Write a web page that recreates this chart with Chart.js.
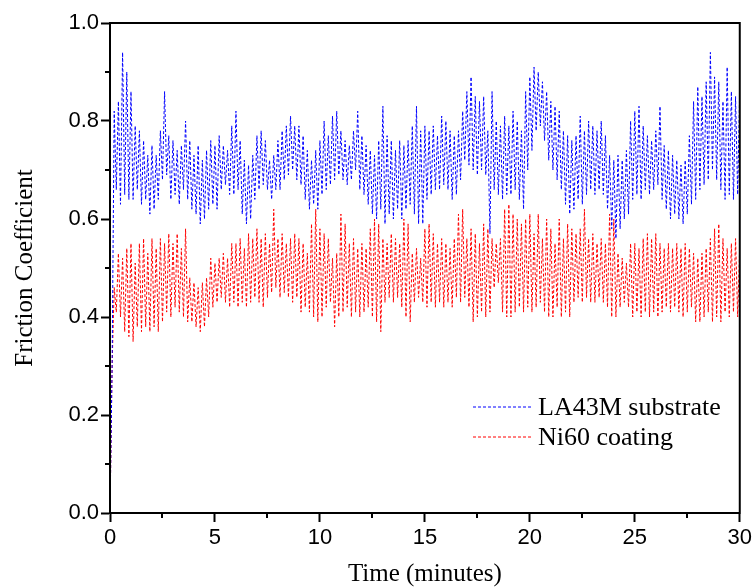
<!DOCTYPE html>
<html>
<head>
<meta charset="utf-8">
<script src="https://cdn.jsdelivr.net/npm/chart.js@4.4.1/dist/chart.umd.min.js"></script>
<style>
  html, body { margin: 0; padding: 0; background: #fff; }
  #grafico { display: block; }
</style>
</head>
<body>
<canvas id="grafico" width="755" height="587"></canvas>
<script>
// tiempo de muestreo cada 0.1 min, de 0 a 30
const tiempos = Array.from({ length: 301 }, (_, i) => i / 10);

// LA43M substrate (azul)
const substrato = [
  0.00, 0.30, 0.82, 0.66, 0.84, 0.63, 0.94, 0.65, 0.90, 0.64,
  0.86, 0.64, 0.79, 0.66, 0.78, 0.63, 0.76, 0.64, 0.73, 0.61,
  0.75, 0.62, 0.73, 0.64, 0.78, 0.68, 0.86, 0.69, 0.77, 0.64,
  0.76, 0.65, 0.74, 0.63, 0.75, 0.66, 0.80, 0.64, 0.76, 0.62,
  0.73, 0.61, 0.75, 0.59, 0.72, 0.60, 0.74, 0.62, 0.76, 0.63,
  0.75, 0.62, 0.77, 0.66, 0.75, 0.67, 0.74, 0.65, 0.79, 0.65,
  0.82, 0.66, 0.76, 0.61, 0.72, 0.59, 0.71, 0.60, 0.73, 0.64,
  0.77, 0.66, 0.78, 0.67, 0.76, 0.66, 0.72, 0.64, 0.73, 0.66,
  0.76, 0.66, 0.78, 0.68, 0.79, 0.69, 0.81, 0.70, 0.79, 0.68,
  0.79, 0.67, 0.77, 0.64, 0.74, 0.62, 0.72, 0.63, 0.74, 0.62,
  0.76, 0.65, 0.80, 0.66, 0.77, 0.67, 0.81, 0.68, 0.82, 0.69,
  0.78, 0.68, 0.76, 0.67, 0.75, 0.68, 0.78, 0.70, 0.82, 0.66,
  0.77, 0.65, 0.75, 0.63, 0.74, 0.61, 0.73, 0.60, 0.76, 0.62,
  0.83, 0.59, 0.77, 0.61, 0.76, 0.60, 0.74, 0.62, 0.76, 0.60,
  0.75, 0.62, 0.76, 0.63, 0.79, 0.61, 0.83, 0.59, 0.78, 0.59,
  0.79, 0.64, 0.78, 0.65, 0.79, 0.66, 0.77, 0.66, 0.81, 0.67,
  0.80, 0.66, 0.78, 0.64, 0.77, 0.65, 0.78, 0.68, 0.82, 0.72,
  0.86, 0.71, 0.89, 0.70, 0.85, 0.69, 0.84, 0.70, 0.85, 0.69,
  0.78, 0.57, 0.86, 0.66, 0.80, 0.65, 0.79, 0.64, 0.81, 0.65,
  0.79, 0.65, 0.82, 0.66, 0.80, 0.64, 0.78, 0.62, 0.86, 0.70,
  0.89, 0.74, 0.91, 0.78, 0.90, 0.79, 0.88, 0.76, 0.86, 0.72,
  0.84, 0.70, 0.83, 0.68, 0.82, 0.66, 0.78, 0.63, 0.77, 0.61,
  0.76, 0.62, 0.77, 0.64, 0.81, 0.63, 0.78, 0.65, 0.80, 0.66,
  0.79, 0.65, 0.78, 0.66, 0.80, 0.65, 0.77, 0.62, 0.73, 0.58,
  0.72, 0.56, 0.73, 0.58, 0.72, 0.60, 0.74, 0.61, 0.80, 0.64,
  0.82, 0.65, 0.83, 0.64, 0.79, 0.66, 0.77, 0.65, 0.76, 0.66,
  0.78, 0.67, 0.83, 0.64, 0.75, 0.62, 0.74, 0.60, 0.73, 0.61,
  0.72, 0.60, 0.71, 0.59, 0.72, 0.61, 0.77, 0.63, 0.84, 0.64,
  0.87, 0.66, 0.85, 0.67, 0.88, 0.68, 0.94, 0.70, 0.89, 0.68,
  0.88, 0.66, 0.84, 0.64, 0.91, 0.65, 0.86, 0.64, 0.85, 0.65,
  0.87
];

// Ni60 coating (rojo)
const recubrimiento = [
  0.00, 0.30, 0.46, 0.41, 0.53, 0.40, 0.52, 0.37, 0.54, 0.36,
  0.55, 0.35, 0.51, 0.38, 0.55, 0.37, 0.56, 0.38, 0.53, 0.37,
  0.56, 0.38, 0.54, 0.37, 0.56, 0.39, 0.55, 0.41, 0.57, 0.40,
  0.55, 0.42, 0.57, 0.41, 0.54, 0.40, 0.58, 0.39, 0.48, 0.39,
  0.47, 0.38, 0.46, 0.37, 0.47, 0.38, 0.48, 0.40, 0.52, 0.42,
  0.51, 0.43, 0.52, 0.44, 0.53, 0.43, 0.52, 0.42, 0.55, 0.43,
  0.55, 0.42, 0.56, 0.43, 0.54, 0.42, 0.57, 0.43, 0.56, 0.44,
  0.58, 0.43, 0.56, 0.42, 0.57, 0.44, 0.55, 0.45, 0.62, 0.46,
  0.56, 0.44, 0.57, 0.45, 0.55, 0.44, 0.56, 0.43, 0.57, 0.44,
  0.56, 0.41, 0.55, 0.42, 0.53, 0.41, 0.59, 0.40, 0.62, 0.39,
  0.58, 0.40, 0.57, 0.42, 0.56, 0.43, 0.52, 0.38, 0.53, 0.40,
  0.61, 0.41, 0.59, 0.42, 0.55, 0.40, 0.56, 0.41, 0.54, 0.40,
  0.55, 0.41, 0.54, 0.42, 0.58, 0.40, 0.60, 0.39, 0.59, 0.37,
  0.56, 0.43, 0.55, 0.44, 0.57, 0.43, 0.56, 0.44, 0.55, 0.42,
  0.60, 0.40, 0.59, 0.39, 0.53, 0.43, 0.54, 0.44, 0.52, 0.43,
  0.58, 0.42, 0.59, 0.43, 0.57, 0.42, 0.55, 0.43, 0.56, 0.42,
  0.55, 0.43, 0.54, 0.42, 0.56, 0.44, 0.61, 0.43, 0.62, 0.44,
  0.56, 0.42, 0.58, 0.39, 0.57, 0.40, 0.55, 0.41, 0.59, 0.40,
  0.58, 0.41, 0.56, 0.46, 0.55, 0.47, 0.56, 0.41, 0.62, 0.40,
  0.63, 0.40, 0.61, 0.41, 0.60, 0.42, 0.59, 0.41, 0.60, 0.42,
  0.61, 0.41, 0.57, 0.42, 0.61, 0.43, 0.56, 0.41, 0.60, 0.40,
  0.58, 0.40, 0.55, 0.42, 0.60, 0.40, 0.56, 0.41, 0.59, 0.40,
  0.58, 0.43, 0.57, 0.44, 0.58, 0.43, 0.62, 0.44, 0.56, 0.43,
  0.57, 0.43, 0.55, 0.44, 0.56, 0.43, 0.55, 0.42, 0.61, 0.40,
  0.60, 0.40, 0.53, 0.42, 0.52, 0.43, 0.51, 0.42, 0.55, 0.40,
  0.55, 0.41, 0.54, 0.40, 0.56, 0.41, 0.57, 0.40, 0.56, 0.41,
  0.57, 0.40, 0.55, 0.41, 0.54, 0.42, 0.55, 0.41, 0.54, 0.42,
  0.55, 0.41, 0.54, 0.40, 0.55, 0.41, 0.54, 0.42, 0.53, 0.39,
  0.52, 0.39, 0.53, 0.40, 0.54, 0.41, 0.56, 0.39, 0.58, 0.40,
  0.59, 0.39, 0.56, 0.41, 0.54, 0.40, 0.55, 0.41, 0.56, 0.40,
  0.55
];

const etiquetas = ['LA43M substrate', 'Ni60 coating'];
const colores = ['#0000ff', '#ff0000'];

const marcasX = [0, 5, 10, 15, 20, 25, 30];
const marcasMenoresX = [2.5, 7.5, 12.5, 17.5, 22.5, 27.5];
const marcasY = [0.0, 0.2, 0.4, 0.6, 0.8, 1.0];
const marcasMenoresY = [0.1, 0.3, 0.5, 0.7, 0.9];

const fuenteTicks = { family: 'Liberation Sans', size: 22 };
const fuenteTitulo = { family: 'Liberation Serif', size: 25, lineHeight: 1 };

function puntos(valores) {
  return valores.map((v, i) => ({ x: tiempos[i], y: v }));
}

// marco, marcas menores y leyenda dibujados a mano
const extras = {
  id: 'extras',
  afterDraw(chart) {
    const ctx = chart.ctx;
    const area = chart.chartArea;
    const sx = chart.scales.x;
    const sy = chart.scales.y;
    ctx.save();
    ctx.strokeStyle = '#000';
    ctx.lineWidth = 2;
    ctx.strokeRect(area.left, area.top, area.right - area.left, area.bottom - area.top);

    ctx.beginPath();
    marcasMenoresX.forEach(v => {
      const px = Math.round(sx.getPixelForValue(v));
      ctx.moveTo(px, area.bottom);
      ctx.lineTo(px, area.bottom + 5);
    });
    marcasMenoresY.forEach(v => {
      const py = Math.round(sy.getPixelForValue(v));
      ctx.moveTo(area.left, py);
      ctx.lineTo(area.left - 5, py);
    });
    ctx.stroke();

    // leyenda
    ctx.font = '26px "Liberation Serif"';
    ctx.textBaseline = 'middle';
    ctx.fillStyle = '#000';
    chart.data.datasets.forEach((ds, i) => {
      const y = 407 + i * 30;
      ctx.beginPath();
      ctx.setLineDash([3, 2]);
      ctx.lineWidth = 1;
      ctx.strokeStyle = ds.borderColor;
      ctx.moveTo(473, y);
      ctx.lineTo(532, y);
      ctx.stroke();
      ctx.setLineDash([]);
      ctx.fillText(ds.label, 538, y + 1);
    });
    ctx.restore();
  }
};

const ctx = document.getElementById('grafico').getContext('2d');

new Chart(ctx, {
  type: 'line',
  data: {
    datasets: [
      {
        label: etiquetas[0],
        data: puntos(substrato),
        borderColor: colores[0],
        borderWidth: 1,
        borderDash: [3, 2],
        pointRadius: 0,
        tension: 0,
        fill: false
      },
      {
        label: etiquetas[1],
        data: puntos(recubrimiento),
        borderColor: colores[1],
        borderWidth: 1,
        borderDash: [3, 2],
        pointRadius: 0,
        tension: 0,
        fill: false
      }
    ]
  },
  options: {
    responsive: false,
    animation: false,
    devicePixelRatio: 1,
    layout: { padding: { top: 23, right: 13, left: 0, bottom: 0 } },
    plugins: {
      legend: { display: false },
      tooltip: { enabled: false }
    },
    scales: {
      x: {
        type: 'linear',
        min: 0,
        max: 30,
        afterBuildTicks: s => { s.ticks = marcasX.map(v => ({ value: v })); },
        afterFit: s => { s.height = 74; },
        border: { display: true, color: '#000', width: 2 },
        grid: { drawOnChartArea: false, drawTicks: true, tickLength: 9, tickWidth: 2, tickColor: '#000' },
        ticks: { color: '#000', font: fuenteTicks, padding: 3, maxRotation: 0 },
        title: { display: true, text: 'Time (minutes)', color: '#000', font: fuenteTitulo, padding: { top: 0, bottom: 0 } }
      },
      y: {
        min: 0,
        max: 1,
        afterBuildTicks: s => { s.ticks = marcasY.map(v => ({ value: v })); },
        afterFit: s => { s.width = 110; },
        border: { display: true, color: '#000', width: 2 },
        grid: { drawOnChartArea: false, drawTicks: true, tickLength: 9, tickWidth: 2, tickColor: '#000' },
        ticks: {
          color: '#000',
          font: fuenteTicks,
          padding: 2,
          callback: v => v.toFixed(1)
        },
        title: { display: true, text: 'Friction Coefficient', color: '#000', font: fuenteTitulo, padding: { top: 13, bottom: 0 } }
      }
    }
  },
  plugins: [extras]
});
</script>
</body>
</html>
